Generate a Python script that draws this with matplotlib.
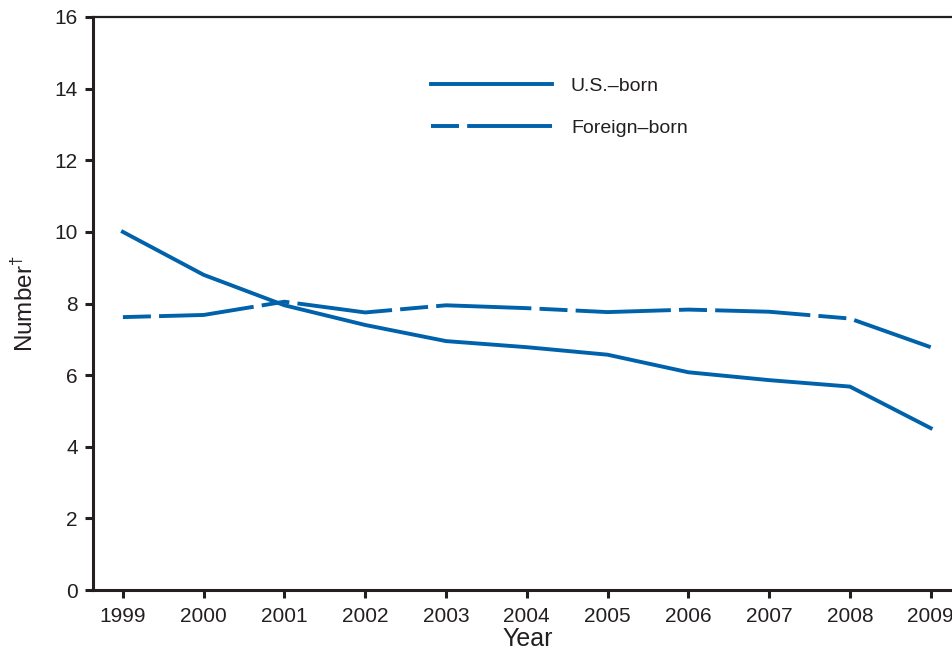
import matplotlib
matplotlib.use("Agg")
import matplotlib.pyplot as plt

plt.rcParams['font.family'] = ['Liberation Sans', 'DejaVu Sans']
plt.rcParams['mathtext.fontset'] = 'custom'
plt.rcParams['mathtext.rm'] = 'Liberation Sans'

years = [1999, 2000, 2001, 2002, 2003, 2004, 2005, 2006, 2007, 2008, 2009]
us_born = [10.0, 8.8, 7.95, 7.4, 6.95, 6.78, 6.57, 6.08, 5.86, 5.68, 4.52]
foreign_born = [7.62, 7.68, 8.05, 7.75, 7.95, 7.87, 7.76, 7.83, 7.77, 7.58, 6.78]

dark = '#231f20'
blue = '#0062ab'

fig = plt.figure(figsize=(9.52, 6.54), dpi=100)
ax = fig.add_axes([93 / 952, 64 / 654, 870 / 952, 573 / 654])

ax.plot(years, us_born, color=blue, lw=2.8, solid_joinstyle='miter', label='U.S.\u2013born')
ax.plot(years, foreign_born, color=blue, lw=2.8, dashes=(7.2, 2.1, 24.5, 2.1),
        dash_capstyle='butt', label='Foreign\u2013born')

ax.set_xlim(1998.63, 2009.4)
ax.set_ylim(0, 16)
ax.set_xticks(years)
ax.set_yticks(range(0, 17, 2))

for side in ['left', 'bottom']:
    ax.spines[side].set_linewidth(2.2)
    ax.spines[side].set_color(dark)
ax.spines['top'].set_linewidth(1.6)
ax.spines['top'].set_color(dark)
ax.spines['right'].set_visible(False)

ax.tick_params(axis='both', direction='out', length=6, width=2.2, color=dark,
               labelsize=15, labelcolor=dark)
ax.tick_params(axis='x', pad=6)
ax.tick_params(axis='y', pad=5)

ax.set_xlabel('Year', fontsize=18, color=dark, labelpad=1)
ax.set_ylabel(r'Number$^{\dag}$', fontsize=17.5, color=dark, labelpad=12)

leg = ax.legend(loc='upper left', bbox_to_anchor=(431 / 952, 1 - 77 / 654),
                bbox_transform=fig.transFigure, frameon=False, fontsize=14,
                handlelength=6.2, handletextpad=1.0, labelspacing=1.25,
                borderpad=0, borderaxespad=0)
for t in leg.get_texts():
    t.set_color(dark)

fig.savefig('out.png', dpi=100)
